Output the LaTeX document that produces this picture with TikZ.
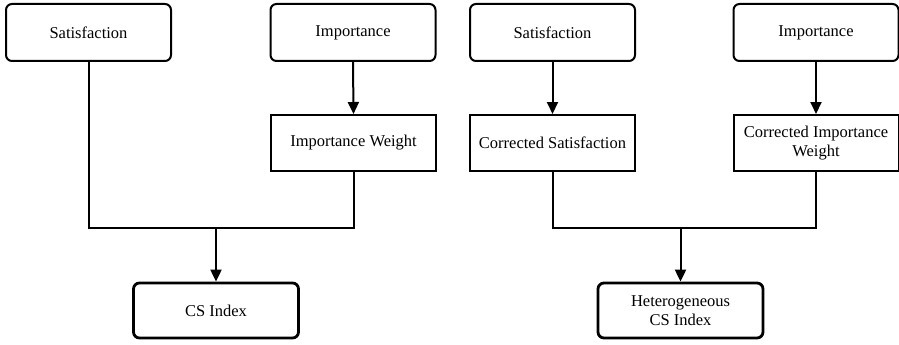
\documentclass[tikz,border=0pt]{standalone}
\usepackage{fontspec}
\setmainfont{Liberation Serif}
\usetikzlibrary{arrows.meta}
\begin{document}
\begin{tikzpicture}[x=1pt,y=-1pt,
  every node/.style={font=\fontsize{16.5}{19}\selectfont, align=center, inner sep=0pt},
  rbox/.style={draw, rounded corners=6pt, line width=2pt, minimum width=165pt, minimum height=57pt},
  sbox/.style={draw, line width=2pt, minimum width=165pt, minimum height=56pt},
  obox/.style={draw, rounded corners=6pt, line width=2.8pt, minimum width=165pt, minimum height=55pt},
  conn/.style={line width=2pt},
  arr/.style={line width=2pt, -{Triangle[length=12pt,width=11pt]}}]
\useasboundingbox (0,0) rectangle (899,345);
% left
\node[rbox] (sat1) at (88.5,32.5) {Satisfaction};
\node[rbox] (imp1) at (353,32.5) {Importance};
\node[sbox] (iw) at (353.5,143) {Importance Weight};
\node[obox] (cs) at (216,310.5) {CS Index};
\coordinate (j1) at (216,228);
\draw[arr] (imp1.south) -- (iw.north);
\draw[conn] (sat1.south) |- (j1) -| (iw.south);
\draw[arr] (j1) -- (cs.north);
% right
\node[rbox] (sat2) at (552.5,32.5) {Satisfaction};
\node[rbox] (imp2) at (816,32.5) {Importance};
\node[sbox] (csat) at (552.5,143) {Corrected Satisfaction};
\node[sbox] (ciw) at (816,143) {Corrected Importance\\Weight};
\node[obox] (hcs) at (680.5,310.5) {Heterogeneous\\CS Index};
\coordinate (j2) at (680.5,228);
\draw[arr] (sat2.south) -- (csat.north);
\draw[arr] (imp2.south) -- (ciw.north);
\draw[conn] (csat.south) |- (j2) -| (ciw.south);
\draw[arr] (j2) -- (hcs.north);
\end{tikzpicture}
\end{document}
